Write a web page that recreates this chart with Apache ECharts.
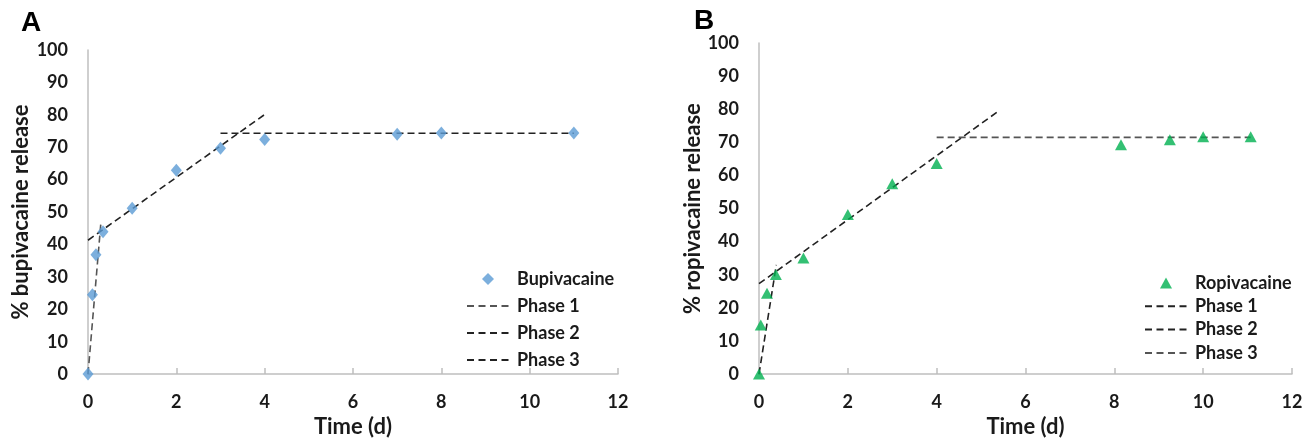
<!DOCTYPE html>
<html><head><meta charset="utf-8">
<script src="https://cdn.jsdelivr.net/npm/echarts@6/dist/echarts.min.js"></script>
<style>html,body{margin:0;padding:0;background:#fff}#c{width:1314px;height:443px}</style>
</head><body><div id="c"></div>
<script>
// Panel A: bupivacaine
const bupiTime = [0, 0.1, 0.18, 0.34, 1, 2, 3, 4, 7, 8, 11];
const bupiRelease = [0, 24.5, 36.8, 43.9, 51.2, 62.9, 69.7, 72.4, 74.0, 74.4, 74.4];
const bupiPhase1 = [[0, 0], [0.29, 46.4]];
const bupiPhase2 = [[0, 41.3], [4, 80.1]];
const bupiPhase3 = [[3, 74.3], [11, 74.3]];
// Panel B: ropivacaine
const ropiTime = [0, 0.04, 0.18, 0.38, 1, 2, 3, 4, 8.15, 9.25, 10, 11.07];
const ropiRelease = [0, 14.8, 24.4, 30.1, 35.1, 48.2, 57.5, 63.6, 69.3, 70.8, 71.7, 71.7];
const ropiPhase1 = [[0, 0], [0.39, 33]];
const ropiPhase2 = [[0, 27.3], [5.42, 79.7]];
const ropiPhase3 = [[4, 71.5], [11.07, 71.5]];
const xTicks = [0, 2, 4, 6, 8, 10, 12];
const yTicks = [0, 10, 20, 30, 40, 50, 60, 70, 80, 90, 100];

const FONT = 'Lato';
const axisColor = '#bfbfbf';
const DASH_ICON = 'path://M0,0M42,14M0,6h7v2h-7zM11.5,6h7v2h-7zM23,6h7v2h-7zM34.5,6h7v2h-7z';
const DIAMOND_ICON = 'path://M0,0M42,14M21,1L27,7L21,13L15,7Z';
const TRIANGLE_ICON = 'path://M0,0M42,14M21,1.5L27,12.5L15,12.5Z';
function xAxis(gi) {
  return {
    gridIndex: gi, type: 'value', min: xTicks[0], max: xTicks[xTicks.length - 1], interval: 2,
    name: 'Time (d)', nameLocation: 'middle', nameGap: 37,
    nameTextStyle: { fontFamily: FONT, fontWeight: 'bold', fontSize: 22, color: '#1a1a1a' },
    axisLine: { lineStyle: { color: axisColor, width: 1.5 } },
    axisTick: { show: true, inside: true, length: 6, lineStyle: { color: axisColor, width: 1.5 } },
    axisLabel: { margin: 19, fontFamily: FONT, fontWeight: 'bold', fontSize: 18, color: '#1a1a1a' },
    splitLine: { show: false }
  };
}
function yAxis(gi, name, gap) {
  return {
    gridIndex: gi, type: 'value', min: yTicks[0], max: yTicks[yTicks.length - 1], interval: 10,
    name: name, nameLocation: 'middle', nameGap: gap,
    nameTextStyle: { fontFamily: FONT, fontWeight: 'bold', fontSize: 22, color: '#1a1a1a' },
    axisLine: { show: true, lineStyle: { color: axisColor, width: 1.5 } },
    axisTick: { show: false },
    axisLabel: { margin: 20, fontFamily: FONT, fontWeight: 'bold', fontSize: 18, color: '#1a1a1a' },
    splitLine: { show: false }
  };
}
function zip(a, b) { return a.map((v, i) => [v, b[i]]); }
function phase(name, gi, data, color) {
  return {
    name: name, type: 'line', xAxisIndex: gi, yAxisIndex: gi, data: data, symbol: 'none',
    lineStyle: { color: color, width: 1.6, type: [7, 4] }, itemStyle: { color: color },
    silent: true, animation: false, z: 1
  };
}
const legendText = { fontFamily: FONT, fontWeight: 'bold', fontSize: 18, color: '#1a1a1a', padding: [0, 0, 0, 3] };
const chart = echarts.init(document.getElementById('c'));
chart.setOption({
  animation: false,
  title: [
    { text: 'A', left: 16, top: 4, textStyle: { fontFamily: 'Liberation Sans', fontWeight: 'bold', fontSize: 28, color: '#000' } },
    { text: 'B', left: 689, top: 2, textStyle: { fontFamily: 'Liberation Sans', fontWeight: 'bold', fontSize: 28, color: '#000' } }
  ],
  grid: [
    { left: 88, right: 696, top: 50, bottom: 64 },
    { left: 759, right: 22, top: 43, bottom: 66 }
  ],
  xAxis: [xAxis(0), xAxis(1)],
  yAxis: [yAxis(0, '% bupivacaine release', 56), yAxis(1, '% ropivacaine release', 52)],
  legend: [
    {
      left: 462, top: 265, orient: 'vertical', itemWidth: 42, itemHeight: 14, itemGap: 9,
      textStyle: legendText, selectedMode: false,
      data: [
        { name: 'Bupivacaine', icon: DIAMOND_ICON },
        { name: 'Phase 1 ', icon: DASH_ICON },
        { name: 'Phase 2 ', icon: DASH_ICON },
        { name: 'Phase 3 ', icon: DASH_ICON }
      ]
    },
    {
      left: 1140, top: 269, orient: 'vertical', itemWidth: 42, itemHeight: 14, itemGap: 5.3,
      textStyle: legendText, selectedMode: false,
      data: [
        { name: 'Ropivacaine', icon: TRIANGLE_ICON },
        { name: 'Phase 1', icon: DASH_ICON },
        { name: 'Phase 2', icon: DASH_ICON },
        { name: 'Phase 3', icon: DASH_ICON }
      ]
    }
  ],
  series: [
    phase('Phase 1 ', 0, bupiPhase1, '#555555'),
    phase('Phase 2 ', 0, bupiPhase2, '#222222'),
    phase('Phase 3 ', 0, bupiPhase3, '#222222'),
    {
      name: 'Bupivacaine', type: 'scatter', xAxisIndex: 0, yAxisIndex: 0,
      data: zip(bupiTime, bupiRelease), symbol: 'diamond', symbolSize: [11, 13],
      itemStyle: { color: '#5b9bd5' }, z: 3
    },
    phase('Phase 1', 1, ropiPhase1, '#222222'),
    phase('Phase 2', 1, ropiPhase2, '#222222'),
    phase('Phase 3', 1, ropiPhase3, '#555555'),
    {
      name: 'Ropivacaine', type: 'scatter', xAxisIndex: 1, yAxisIndex: 1,
      data: zip(ropiTime, ropiRelease), symbol: 'triangle', symbolSize: [12, 11],
      itemStyle: { color: '#00b050' }, z: 3
    }
  ]
});
</script></body></html>
